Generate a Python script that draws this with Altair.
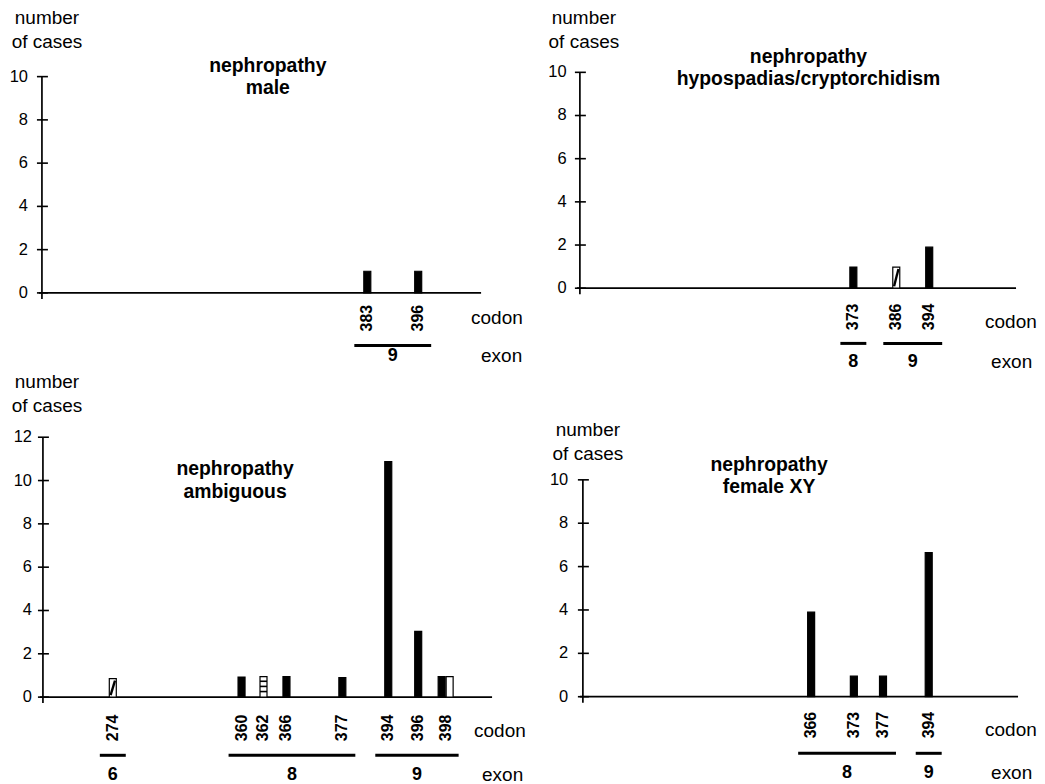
import altair as alt
import pandas as pd
import numpy as np
from collections import Counter

FONT = "Liberation Sans"

# ---------------- data ----------------
male_codon = [383, 396]
male_cases = [1.0, 1.0]
male_kind = ["solid", "solid"]
male_exon = ["9", "9"]

hypo_codon = [373, 386, 394]
hypo_cases = [0.98, 0.98, 1.9]
hypo_kind = ["solid", "hatched", "solid"]
hypo_exon = ["8", "9", "9"]

amb_codon = [274, 360, 362, 366, 377, 394, 396, 398, 398]
amb_cases = [0.85, 0.93, 0.95, 0.95, 0.9, 10.88, 3.04, 0.95, 0.95]
amb_kind = ["hatched", "solid", "striped", "solid", "solid", "solid", "solid", "solid", "open"]
amb_exon = ["6", "8", "8", "8", "8", "9", "9", "9", "9"]

fem_codon = [366, 373, 377, 394]
fem_cases = [3.9, 0.95, 0.95, 6.65]
fem_kind = ["solid", "solid", "solid", "solid"]
fem_exon = ["8", "8", "8", "9"]

ticks_10 = [0, 2, 4, 6, 8, 10]
ticks_12 = [0, 2, 4, 6, 8, 10, 12]

titles = {
    "male": ["nephropathy", "male"],
    "hypo": ["nephropathy", "hypospadias/cryptorchidism"],
    "amb": ["nephropathy", "ambiguous"],
    "fem": ["nephropathy", "female XY"],
}
y_title = ["number", "of cases"]

# ---------------- layout (panel-local pixels) ----------------
LAYOUT = {
    "male": dict(H=362, ax=34, xend=474, y0=284.7, ytop=68, xpx=[360, 411], lblx=20,
                 num=(39, 9), title=(260.3, 57), cy=310, cword=(464, 310),
                 ely=337.5, elbl=347.5, eword=474),
    "hypo": dict(H=362, ax=59, xend=496, y0=280, ytop=63.7, xpx=[333, 376, 409], lblx=45.7,
                 num=(63, 9), title=(288, 48), cy=308.7, cword=(465, 313.7),
                 ely=335.3, elbl=353.7, eword=471),
    "amb": dict(H=406, ax=35, xend=485, y0=327.7, ytop=67.3,
                xpx=[105, 234, 256, 279, 335, 381, 411, 438.5], lblx=24,
                num=(39, 12), title=(227.5, 99.3), cy=358.5, cword=(467, 362),
                ely=386, elbl=406, eword=475),
    "fem": dict(H=406, ax=62, xend=498, y0=327.3, ytop=110, xpx=[290.7, 333.5, 362.7, 408.5],
                lblx=47.3, num=(67, 60), title=(248.5, 95), cy=355.7, cword=(465, 360.7),
                ely=384, elbl=404, eword=471),
}
W = 514
PAD = 13
BARW = 8


def one():
    return pd.DataFrame({"a": [0]})


def panel(key, codon, cases, kind, exon, ticks):
    L = LAYOUT[key]
    H = L["H"]
    dom = sorted(set(codon))
    xs = alt.Scale(domain=dom, range=L["xpx"], nice=False, zero=False, padding=0)
    k = (L["y0"] - L["ytop"]) / ticks[-1]          # px per case
    ys = alt.Scale(domain=[-(H - L["y0"]) / k, L["y0"] / k], nice=False, zero=False, padding=0)
    ax = L["ax"]

    bars = pd.DataFrame({"codon": codon, "cases": cases, "kind": kind, "exon": exon})
    tdf = pd.DataFrame({"t": ticks})

    layers = []
    # y axis line
    layers.append(
        alt.Chart(pd.DataFrame({"top": [ticks[-1]], "bot": [0]}))
        .mark_rule(color="black", strokeWidth=1.7, y2Offset=6)
        .encode(x=alt.value(ax), y=alt.Y("top:Q", scale=ys, axis=None), y2="bot:Q")
    )
    # x axis line
    layers.append(
        alt.Chart(pd.DataFrame({"z": [0]}))
        .mark_rule(color="black", strokeWidth=1.7)
        .encode(x=alt.value(ax - 3), x2=alt.value(L["xend"]), y=alt.Y("z:Q", scale=ys, axis=None))
    )
    # ticks
    layers.append(
        alt.Chart(tdf).mark_rule(color="black", strokeWidth=1.6)
        .encode(x=alt.value(ax - 5), x2=alt.value(ax + 6), y=alt.Y("t:Q", scale=ys, axis=None))
    )
    layers.append(
        alt.Chart(tdf).mark_text(align="right", baseline="middle", fontSize=16.5, color="black")
        .encode(x=alt.value(L["lblx"]), y=alt.Y("t:Q", scale=ys, axis=None), text=alt.Text("t:Q", format="d"))
    )
    # bars: codons carrying several mutation types are drawn side by side
    fill_scale = alt.Scale(domain=["solid", "hatched", "striped", "open"],
                           range=["black", "white", "white", "white"])
    base = (
        alt.Chart(bars)
        .transform_joinaggregate(n="count()", groupby=["codon"])
        .transform_window(rk="row_number()", groupby=["codon"])
        .transform_calculate(zero="0")
    )
    for N in sorted(set(Counter(codon).values())):
        for r in range(1, N + 1):
            off = (r - (N + 1) / 2) * BARW
            layers.append(
                base.transform_filter(f"datum.n == {N} && datum.rk == {r}")
                .mark_bar(size=BARW - 1, stroke="black", strokeWidth=1.2, orient="vertical", xOffset=off)
                .encode(
                    x=alt.X("codon:Q", scale=xs, axis=None),
                    y=alt.Y("cases:Q", scale=ys, axis=None, stack=None),
                    y2="zero:Q",
                    fill=alt.Fill("kind:N", scale=fill_scale, legend=None),
                )
            )
    if "hatched" in kind:
        layers.append(
            alt.Chart(bars).transform_filter("datum.kind == 'hatched'")
            .transform_calculate(zero="0")
            .mark_rule(color="black", strokeWidth=2.4, xOffset=-2.2, x2Offset=2.2, yOffset=-2, y2Offset=2)
            .encode(x=alt.X("codon:Q", scale=xs, axis=None), x2="codon:Q",
                    y=alt.Y("zero:Q", scale=ys, axis=None), y2="cases:Q")
        )
    if "striped" in kind:
        layers.append(
            alt.Chart(bars).transform_filter("datum.kind == 'striped'")
            .transform_calculate(fr="[0.27, 0.52, 0.77]")
            .transform_flatten(["fr"])
            .transform_calculate(h="datum.cases * datum.fr")
            .mark_rule(color="black", strokeWidth=1.6, xOffset=-3.5, x2Offset=3.5)
            .encode(x=alt.X("codon:Q", scale=xs, axis=None), x2="codon:Q",
                    y=alt.Y("h:Q", scale=ys, axis=None))
        )
    # codon labels
    layers.append(
        alt.Chart(pd.DataFrame({"codon": dom}))
        .mark_text(angle=270, align="center", baseline="middle", fontSize=16, fontWeight="bold", color="black")
        .encode(x=alt.X("codon:Q", scale=xs, axis=None), y=alt.value(L["cy"]),
                text=alt.Text("codon:Q", format="d"))
    )
    # exons
    ex = bars.groupby("exon", sort=False)["codon"].agg(["min", "max"]).reset_index()
    px_lo = np.interp(ex["min"], dom, L["xpx"]) - PAD
    px_hi = np.interp(ex["max"], dom, L["xpx"]) + PAD
    ex["mid"] = np.interp((px_lo + px_hi) / 2, L["xpx"], dom)
    layers.append(
        alt.Chart(ex).mark_rule(color="black", strokeWidth=3, xOffset=-PAD, x2Offset=PAD)
        .encode(x=alt.X("min:Q", scale=xs, axis=None), x2="max:Q", y=alt.value(L["ely"]))
    )
    layers.append(
        alt.Chart(ex).mark_text(fontSize=18, fontWeight="bold", baseline="middle", align="center", color="black")
        .encode(x=alt.X("mid:Q", scale=xs, axis=None), y=alt.value(L["elbl"]), text="exon:N")
    )
    # static texts
    layers.append(
        alt.Chart(one()).mark_text(fontSize=19, align="center", baseline="middle", lineHeight=24.5, color="black")
        .encode(x=alt.value(L["num"][0]), y=alt.value(L["num"][1]), text=alt.value(y_title))
    )
    layers.append(
        alt.Chart(one()).mark_text(fontSize=19.4, fontWeight="bold", align="center", baseline="middle",
                                   lineHeight=22.5, color="black")
        .encode(x=alt.value(L["title"][0]), y=alt.value(L["title"][1]), text=alt.value(titles[key]))
    )
    layers.append(
        alt.Chart(one()).mark_text(fontSize=19, align="left", baseline="middle", color="black")
        .encode(x=alt.value(L["cword"][0]), y=alt.value(L["cword"][1]), text=alt.value("codon"))
    )
    layers.append(
        alt.Chart(one()).mark_text(fontSize=19, align="left", baseline="middle", color="black")
        .encode(x=alt.value(L["eword"]), y=alt.value(L["elbl"]), text=alt.value("exon"))
    )
    return alt.layer(*layers).properties(width=W, height=H)


p1 = panel("male", male_codon, male_cases, male_kind, male_exon, ticks_10)
p2 = panel("hypo", hypo_codon, hypo_cases, hypo_kind, hypo_exon, ticks_10)
p3 = panel("amb", amb_codon, amb_cases, amb_kind, amb_exon, ticks_12)
p4 = panel("fem", fem_codon, fem_cases, fem_kind, fem_exon, ticks_10)

chart = (
    alt.concat(p1, p2, p3, p4, columns=2, spacing=0, bounds="flush")
    .resolve_scale(x="independent", y="independent")
    .properties(padding=0, background="white")
    .configure(font=FONT)
    .configure_view(stroke=None)
)

chart.save("out.html", embed_options={"renderer": "svg", "actions": False})
